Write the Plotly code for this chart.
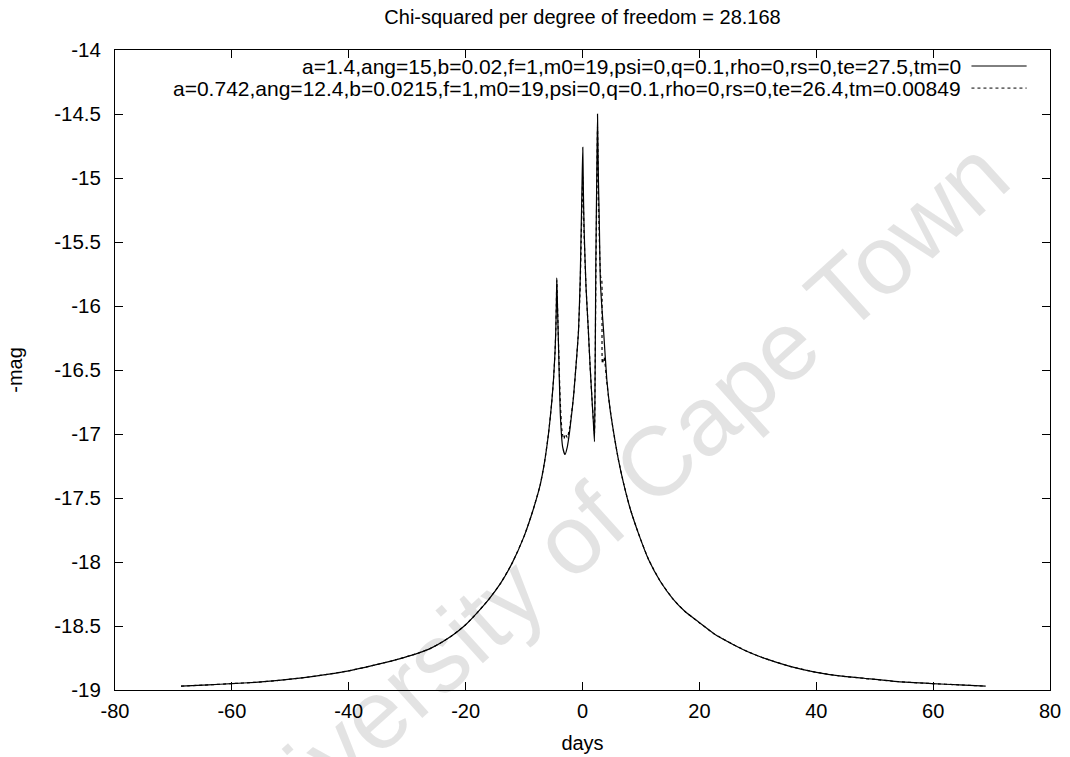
import plotly.graph_objects as go

# ---- data ----
solid_x = [-68.7, -64, -60, -56, -52, -48, -44, -40, -36, -32, -28, -26, -24, -22, -20, -18, -16, -14, -12,
           -10, -8.5, -7.25, -6.5, -5.8, -5.3, -4.97, -4.7, -4.57, -4.48, -4.4, -4.25, -4.1, -3.8, -3.4,
           -3.0, -2.6, -2.2, -1.54, -1.0, -0.68, -0.4, -0.23, -0.08, 0.05, 0.15, 0.28, 0.6, 1.0, 1.3, 1.6,
           1.85, 2.05, 2.15, 2.28, 2.45, 2.57, 2.7, 2.9, 3.05, 3.3, 3.6, 4.17, 4.7, 5.3, 6.1, 7.0, 8.2, 9.6,
           11.3, 13.3, 15.5, 17.5, 19.9, 22.5, 25.6, 28.5, 31.3, 35.5, 39.8, 44, 48.4, 54, 59.8, 64.5, 69.0]
solid_y = [-18.97, -18.96, -18.95, -18.94, -18.925, -18.905, -18.88, -18.85, -18.81, -18.765, -18.71, -18.675,
           -18.625, -18.565, -18.49, -18.395, -18.29, -18.165, -18.005, -17.80, -17.60, -17.40, -17.22, -16.99,
           -16.77, -16.58, -16.36, -16.19, -16.0, -15.78, -16.05, -16.32, -16.84, -17.10, -17.16, -17.10,
           -16.98, -16.71, -16.40, -16.19, -15.80, -15.41, -15.05, -14.76, -15.10, -15.41, -15.85, -16.19,
           -16.47, -16.71, -16.90, -17.06, -16.60, -15.67, -14.95, -14.50, -14.95, -15.41, -15.80, -16.00,
           -16.19, -16.58, -16.80, -16.98, -17.19, -17.38, -17.59, -17.78, -17.98, -18.15, -18.29, -18.385,
           -18.47, -18.56, -18.64, -18.705, -18.755, -18.815, -18.86, -18.89, -18.91, -18.935, -18.95, -18.96,
           -18.97]

dashed_x = [-68.7, -64, -60, -56, -52, -48, -44, -40, -36, -32, -28, -26, -24, -22, -20, -18, -16, -14, -12,
            -10, -8.5, -7.25, -6.5, -5.8, -5.3, -4.97, -4.7, -4.57, -4.48, -4.4, -4.25, -4.1, -3.8, -3.5,
            -3.2, -2.9, -2.6, -2.2, -1.54, -1.0, -0.68, -0.4, -0.23, -0.08, 0.05, 0.15, 0.28, 0.6, 1.0, 1.3,
            1.6, 1.85, 2.05, 2.15, 2.3, 2.45, 2.57, 2.75, 2.95, 3.1, 3.3, 3.4, 3.7, 4.17, 4.7, 5.3, 6.1, 7.0,
            8.2, 9.6, 11.3, 13.3, 15.5, 17.5, 19.9, 22.5, 25.6, 28.5, 31.3, 35.5, 39.8, 44, 48.4, 54, 59.8,
            64.5, 69.0]
dashed_y = [-18.97, -18.96, -18.95, -18.94, -18.925, -18.905, -18.88, -18.85, -18.81, -18.765, -18.71, -18.675,
            -18.625, -18.565, -18.49, -18.395, -18.29, -18.165, -18.005, -17.80, -17.60, -17.40, -17.22, -16.99,
            -16.77, -16.58, -16.36, -16.19, -16.0, -15.80, -16.05, -16.30, -16.75, -16.98, -17.04, -17.00,
            -17.03, -16.95, -16.71, -16.40, -16.19, -15.85, -15.50, -15.20, -14.99, -15.20, -15.45, -15.85,
            -16.19, -16.47, -16.71, -16.88, -17.00, -16.60, -15.70, -15.05, -14.60, -15.20, -15.60, -15.77,
            -15.80, -16.45, -16.40, -16.60, -16.80, -16.98, -17.19, -17.38, -17.59, -17.78, -17.98, -18.15,
            -18.29, -18.385, -18.47, -18.56, -18.64, -18.705, -18.755, -18.815, -18.86, -18.89, -18.91, -18.935,
            -18.95, -18.96, -18.97]

solid_label = "a=1.4,ang=15,b=0.02,f=1,m0=19,psi=0,q=0.1,rho=0,rs=0,te=27.5,tm=0"
dashed_label = "a=0.742,ang=12.4,b=0.0215,f=1,m0=19,psi=0,q=0.1,rho=0,rs=0,te=26.4,tm=0.00849"
title_text = "Chi-squared per degree of freedom = 28.168"

x_tickvals = [-80, -60, -40, -20, 0, 20, 40, 60, 80]
x_ticktext = ["-80", "-60", "-40", "-20", "0", "20", "40", "60", "80"]
y_tickvals = [-19, -18.5, -18, -17.5, -17, -16.5, -16, -15.5, -15, -14.5, -14]
y_ticktext = ["-19", "-18.5", "-18", "-17.5", "-17", "-16.5", "-16", "-15.5", "-15", "-14.5", "-14"]

FONT = "Liberation Sans, Arial, sans-serif"

fig = go.Figure()
fig.add_trace(go.Scatter(x=solid_x, y=solid_y, mode="lines", name=solid_label,
                         line=dict(color="black", width=1.2, shape="spline", smoothing=0.5),
                         showlegend=False))
fig.add_trace(go.Scatter(x=dashed_x, y=dashed_y, mode="lines", name=dashed_label,
                         line=dict(color="black", width=1.2, dash="3px,3px", shape="spline", smoothing=0.5),
                         showlegend=False))

# gnuplot-style key (text right-aligned, sample on the right)
fig.add_annotation(text=solid_label, xref="paper", yref="paper", x=0.907, y=0.975,
                   xanchor="right", yanchor="middle", showarrow=False,
                   font=dict(family=FONT, size=21, color="black"))
fig.add_annotation(text=dashed_label, xref="paper", yref="paper", x=0.907, y=0.9405,
                   xanchor="right", yanchor="middle", showarrow=False,
                   font=dict(family=FONT, size=21, color="black"))
fig.add_shape(type="line", xref="paper", yref="paper", x0=0.916, x1=0.975, y0=0.975, y1=0.975,
              line=dict(color="black", width=1))
fig.add_shape(type="line", xref="paper", yref="paper", x0=0.916, x1=0.975, y0=0.9405, y1=0.9405,
              line=dict(color="black", width=1, dash="3px,3px"))

# watermark
fig.add_annotation(text="University of Cape Town", xref="paper", yref="paper", x=0.519, y=0.278,
                   xanchor="center", yanchor="middle", showarrow=False, textangle=-42,
                   font=dict(family=FONT, size=98, color="rgba(0,0,0,0.11)"))

fig.update_layout(
    width=1070, height=757, autosize=False,
    margin=dict(l=115, r=20, t=50, b=67),
    paper_bgcolor="white", plot_bgcolor="white",
    font=dict(family=FONT, size=20, color="black"),
    title=dict(text=title_text, x=0.5, xref="paper", xanchor="center", y=0.978, yanchor="middle",
               font=dict(family=FONT, size=20, color="black")),
    showlegend=False,
)
fig.update_xaxes(range=[-80, 80], tickvals=x_tickvals, ticktext=x_ticktext, automargin=False,
                 showgrid=False, zeroline=False, showline=True, linecolor="black", linewidth=1,
                 mirror="ticks", ticks="inside", ticklen=8, tickcolor="black",
                 tickfont=dict(family=FONT, size=20), ticklabelstandoff=3,
                 title=dict(text="days", standoff=14, font=dict(family=FONT, size=20)))
fig.update_yaxes(range=[-19, -14], tickvals=y_tickvals, ticktext=y_ticktext, automargin=False,
                 showgrid=False, zeroline=False, showline=True, linecolor="black", linewidth=1,
                 mirror="ticks", ticks="inside", ticklen=8, tickcolor="black",
                 tickfont=dict(family=FONT, size=20.5), ticklabelstandoff=9,
                 title=dict(text="-mag", standoff=26, font=dict(family=FONT, size=20)))

fig.write_html("out.html")
